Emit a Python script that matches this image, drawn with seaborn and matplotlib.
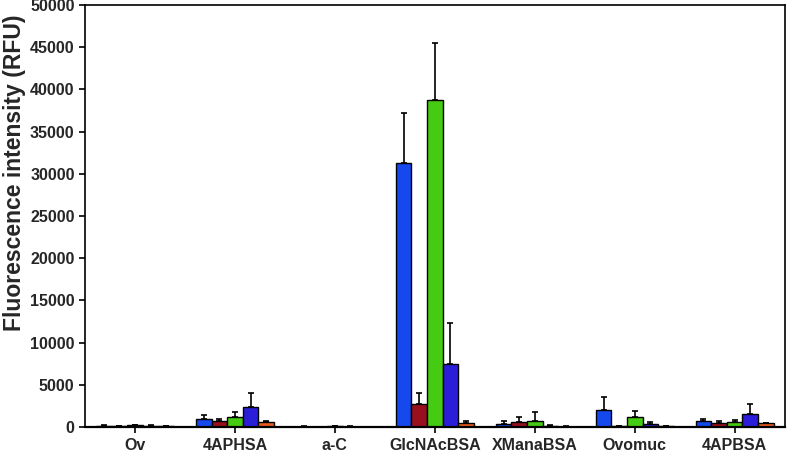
import matplotlib
matplotlib.use('Agg')
import matplotlib.pyplot as plt
import seaborn as sns
import pandas as pd
import numpy as np

# 데이터
categories = ['Ov', '4APHSA', 'a-C', 'GlcNAcBSA', 'XManaBSA', 'Ovomuc', '4APBSA']
series = ['s1', 's2', 's3', 's4', 's5']
colors = ['#1549ee', '#9a0f1e', '#45cc12', '#2b1ed9', '#ec5a1e']

values = {
    's1': [150, 950, 60, 31300, 400, 2050, 750],
    's2': [80, 670, 40, 2720, 590, 100, 510],
    's3': [200, 1220, 80, 38800, 670, 1180, 590],
    's4': [150, 2330, 70, 7450, 150, 350, 1580],
    's5': [80, 630, 40, 430, 60, 100, 470],
}
errors = {
    's1': [80, 500, 30, 5950, 350, 1470, 230],
    's2': [40, 280, 20, 1340, 590, 60, 160],
    's3': [100, 520, 40, 6700, 1140, 680, 280],
    's4': [80, 1660, 30, 4830, 80, 240, 1150],
    's5': [40, 60, 20, 250, 40, 50, 60],
}

rows = []
for s in series:
    for c, v, e in zip(categories, values[s], errors[s]):
        rows.append({'cat': c, 'series': s, 'val': v, 'err': e})
df = pd.DataFrame(rows)

sns.set_style('white')
plt.rcParams['font.family'] = ['Liberation Sans', 'DejaVu Sans']
plt.rcParams['font.weight'] = 'bold'

fig = plt.figure(figsize=(7.87, 4.51), dpi=100)
ax = fig.add_axes([0.108, 0.053, 0.889, 0.936])

sns.barplot(data=df, x='cat', y='val', hue='series', order=categories,
            hue_order=series, palette=colors, errorbar=None,
            edgecolor='black', linewidth=1.0, width=0.78, saturation=1,
            legend=False, ax=ax)

# 에러바 (위쪽만)
for i, s in enumerate(series):
    bars = ax.containers[i]
    xs = [b.get_x() + b.get_width() / 2 for b in bars]
    ys = [b.get_height() for b in bars]
    errs = errors[s]
    ax.errorbar(xs, ys, yerr=[np.zeros(len(errs)), errs], fmt='none',
                ecolor='black', elinewidth=1.2, capsize=2.5, capthick=1.2)

ax.set_xlim(-0.5, 6.5)
ax.set_ylim(0, 50000)
ax.set_yticks(range(0, 50001, 5000))
ax.set_xlabel('')
ax.set_ylabel('Fluorescence intensity (RFU)', fontsize=16.5, fontweight='bold')
ax.yaxis.set_label_coords(-0.085, 0.603)
ax.tick_params(axis='both', labelsize=11.5, direction='out', length=4, width=1.2,
               color='black', bottom=True, left=True)
for lab in ax.get_xticklabels() + ax.get_yticklabels():
    lab.set_fontweight('bold')
for sp in ax.spines.values():
    sp.set_color('black')
    sp.set_linewidth(1.2)
ax.spines['bottom'].set_linewidth(1.6)

fig.savefig('out.png', dpi=100)
